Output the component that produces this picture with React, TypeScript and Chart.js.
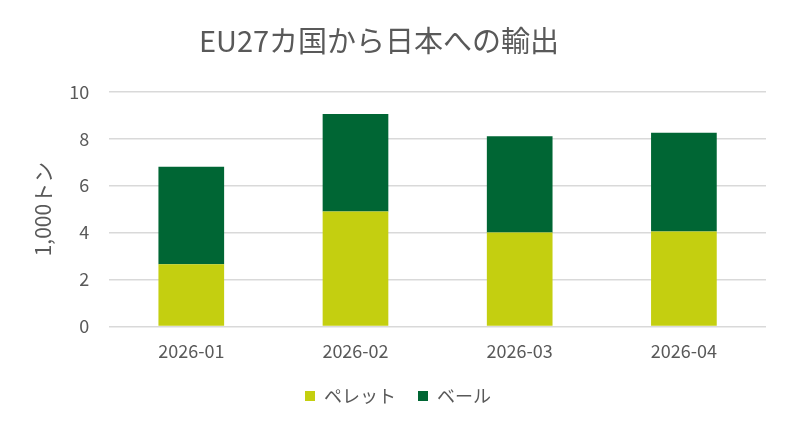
import { Chart, registerables } from "chart.js";
import { useEffect, useRef } from "react";

Chart.register(...registerables);

const categories = ["2026-01", "2026-02", "2026-03", "2026-04"];
const pellet = [2.65, 4.9, 4.0, 4.05];
const bale = [4.15, 4.15, 4.1, 4.2];
const seriesNames = ["ペレット", "ベール"];

const FONT = "'Noto Sans CJK JP', 'Noto Sans', sans-serif";
const TEXT = "#595959";

// legend in the original sits a bit right of the title's centre and
// has wider gaps between items than vertical room allows
const legendShift = {
  id: "legendShift",
  afterLayout(chart: any) {
    const l = chart.legend;
    if (l) {
      l.left += 19;
      l.right += 19;
      l.top -= 11;
      l.bottom -= 11;
    }
  },
};

const App = () => {
  const chartRef = useRef<HTMLCanvasElement | null>(null);
  const chartInstance = useRef<Chart | null>(null);

  useEffect(() => {
    document.body.style.margin = "0";
    if (!chartRef.current) return;
    if (chartInstance.current) chartInstance.current.destroy();

    chartInstance.current = new Chart(chartRef.current, {
      type: "bar",
      data: {
        labels: categories,
        datasets: [
          {
            label: seriesNames[0],
            data: pellet,
            backgroundColor: "#c4cf10", // yellow-green
            barPercentage: 0.4,
            categoryPercentage: 1,
          },
          {
            label: seriesNames[1],
            data: bale,
            backgroundColor: "#006634", // dark green
            barPercentage: 0.4,
            categoryPercentage: 1,
          },
        ],
      },
      plugins: [legendShift],
      options: {
        animation: false,
        responsive: true,
        maintainAspectRatio: false,
        // negative left padding pulls the title centre leftwards like the original
        layout: { padding: { left: -8, right: 23, bottom: 11 } },
        plugins: {
          title: {
            display: true,
            text: "EU27カ国から日本への輸出",
            color: TEXT,
            font: { family: FONT, size: 29, weight: "normal" },
            padding: { top: 24, bottom: 33 },
          },
          legend: {
            position: "bottom",
            maxHeight: 40,
            labels: {
              color: TEXT,
              font: { family: FONT, size: 18 },
              boxWidth: 10,
              boxHeight: 10,
              padding: 22,
            },
          },
          tooltip: { enabled: false },
        },
        scales: {
          x: {
            stacked: true,
            grid: { display: false, drawTicks: false },
            border: { display: false },
            ticks: {
              color: TEXT,
              font: { family: FONT, size: 18 },
              padding: 14,
              maxRotation: 0,
            },
          },
          y: {
            stacked: true,
            min: 0,
            max: 10,
            border: { display: false },
            grid: { color: "#d9d9d9", lineWidth: 1.5, drawTicks: false },
            ticks: {
              stepSize: 2,
              color: TEXT,
              font: { family: FONT, size: 18 },
              padding: 20,
            },
            title: {
              display: true,
              text: "1,000トン",
              color: TEXT,
              font: { family: FONT, size: 21 },
              padding: { top: 38, bottom: -6 },
            },
          },
        },
      },
    });

    return () => {
      if (chartInstance.current) {
        chartInstance.current.destroy();
        chartInstance.current = null;
      }
    };
  }, []);

  return (
    <div style={{ position: "relative", width: "789px", height: "427px" }}>
      <canvas ref={chartRef}></canvas>
    </div>
  );
};

export default App;
